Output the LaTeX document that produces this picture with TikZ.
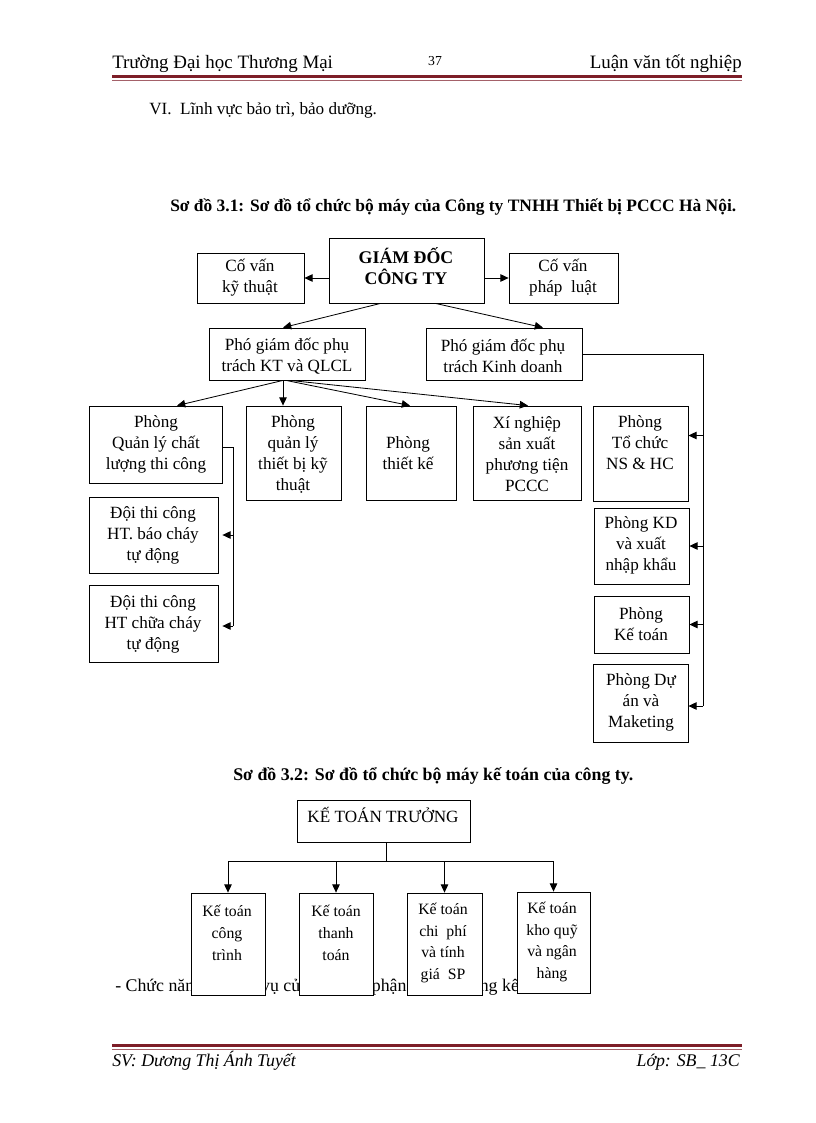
\documentclass[tikz,border=0pt]{standalone}
\usepackage{fontspec}
\setmainfont{Liberation Serif}
\usetikzlibrary{arrows.meta,calc}
\definecolor{rulec}{RGB}{125,30,40}
\tikzset{
  box/.style={draw, line width=0.6pt, fill=white, inner sep=0pt},
  conn/.style={line width=0.6pt},
  arr/.style={conn, -{Triangle[length=6pt,width=5.5pt]}},
  txt/.style={align=center, inner sep=0pt, font=\fontsize{12.5}{15.3}\selectfont},
  small/.style={align=center, inner sep=0pt, font=\fontsize{11.5}{16}\selectfont},
  plain/.style={inner sep=0pt, font=\fontsize{12.5}{15}\selectfont},
}
\newcommand\bx[5]{\node[box, minimum width={(#4-#2)*0.729pt}, minimum height={(#5-#3)*0.729pt}] (#1) at ({(#2+#4)/2},{(#3+#5)/2}) {};}
\begin{document}
\begin{tikzpicture}[x=0.729pt,y=-0.729pt]
\useasboundingbox (0,0) rectangle (816,1123);
\fill[white] (0,0) rectangle (816,1123);
% header
\node[anchor=base west, inner sep=0pt, font=\fontsize{13.8}{16}\selectfont] (h1) at (112,69) {Trường Đại học Thương Mại};
\node[anchor=base, inner sep=0pt, font=\fontsize{10}{12}\selectfont] (h2) at (435,66) {37};
\node[anchor=base east, inner sep=0pt, font=\fontsize{13.8}{16}\selectfont] (h3) at (742,69) {Luận văn tốt nghiệp};
\draw[rulec, line width=2.2pt] (112,76.5) -- (742,76.5);
\draw[rulec!70, line width=0.7pt] (112,80) -- (742,80);
\node[plain, anchor=base west] (vi) at (149,115) {VI.\ \ Lĩnh vực bảo trì, bảo dưỡng.};
\node[anchor=base west, inner sep=0pt, font=\fontsize{12.7}{15}\selectfont\bfseries] (cap1) at (170,212) {Sơ đồ 3.1: Sơ đồ tổ chức bộ máy của Công ty TNHH Thiết bị PCCC Hà Nội.};
% boxes diagram 1
\bx{gd}{329}{238}{484}{303}
\bx{cvkt}{197}{253}{304}{303}
\bx{cvpl}{509}{253}{618}{303}
\bx{pkt}{209}{328}{365}{380}
\bx{pkd}{426}{328}{582}{380}
\bx{qlcl}{89}{406}{222}{483}
\bx{qltb}{246}{406}{341}{500}
\bx{tk}{366}{406}{456}{500}
\bx{xn}{473}{406}{581}{500}
\bx{d1}{89}{497}{218}{573}
\bx{d2}{89}{585}{218}{662}
\bx{tc}{593}{406}{688}{501}
\bx{kd}{594}{508}{689}{584}
\bx{kt}{594}{596}{689}{653}
\bx{da}{593}{664}{688}{742}
% texts
\node[txt, font=\fontsize{13}{15.3}\selectfont\bfseries] (gdt) at (406,266) {GIÁM ĐỐC\\CÔNG TY};
\node[txt] (cvktt) at (250,278) {Cố vấn\\kỹ thuật};
\node[txt] (cvplt) at (563,278) {Cố vấn\\pháp\ \ luật};
\node[txt] (pktt) at (287,356) {Phó giám đốc phụ\\trách KT và QLCL};
\node[txt] (pkdt) at (503,356) {Phó giám đốc phụ\\trách Kinh doanh};
\node[txt] (qlclt) at (156,444) {Phòng\\Quản lý chất\\lượng thi công};
\node[txt] (qltbt) at (293,454) {Phòng\\quản lý\\thiết bị kỹ\\thuật};
\node[txt] (tkt) at (408,453) {Phòng\\thiết kế};
\node[txt] (xnt) at (527,454) {Xí nghiệp\\sản xuất\\phương tiện\\PCCC};
\node[txt] (d1t) at (153,535) {Đội thi công\\HT. báo cháy\\tự động};
\node[txt] (d2t) at (153,624) {Đội thi công\\HT chữa cháy\\tự động};
\node[txt] (tct) at (640,443) {Phòng\\Tổ chức\\NS \& HC};
\node[txt] (kdt) at (641,545) {Phòng KD\\và xuất\\nhập khẩu};
\node[txt] (ktt2) at (641,624) {Phòng\\Kế toán};
\node[txt] (dat) at (641,702) {Phòng Dự\\án và\\Maketing};
% connectors diagram 1
\draw[arr] (gd.west |- cvkt.east) -- (cvkt.east);
\draw[arr] (gd.east |- cvpl.west) -- (cvpl.west);
\draw[arr] ($(gd.south)+(-26,0)$) -- ($(pkt.north)+(-4,0)$);
\draw[arr] ($(gd.south)+(29,0)$) -- ($(pkd.north)+(39,0)$);
\draw[arr] ($(pkt.south)+(-4,0)$) -- ($(qlcl.north)+(21.5,0)$);
\draw[arr] ($(pkt.south)+(-4,0)$) -- ($(qltb.north)+(-10.5,0)$);
\draw[arr] ($(pkt.south)+(-1,0)$) -- ($(tk.north)+(-1,0)$);
\draw[arr] ($(pkt.south)+(3,0)$) -- ($(xn.north)+(1,0)$);
\coordinate (rb) at (703,354);
\coordinate (rb2) at (703,706);
\draw[conn] (pkd.east) -- (rb) -- (rb2);
\draw[arr] ($(rb |- tc.east)+(0,-18)$) -- ($(tc.east)+(0,-18)$);
\draw[arr] (rb |- kd.east) -- (kd.east);
\draw[arr] (rb |- kt.east) -- (kt.east);
\draw[arr] (rb2) -- (da.east |- rb2);
\coordinate (lb) at (233,447);
\coordinate (lb2) at (233,626);
\draw[conn] (qlcl.east |- lb) -- (lb) -- (lb2);
\draw[arr] (lb |- d1.east) -- ($(d1.east)+(4,0)$);
\draw[arr] (lb2) -- ($(d2.east |- lb2)+(4,0)$);
% diagram 2
\node[anchor=base west, inner sep=0pt, font=\fontsize{13}{15}\selectfont\bfseries] (cap2) at (233,780) {Sơ đồ 3.2: Sơ đồ tổ chức bộ máy kế toán của công ty.};
\node[plain, anchor=base west, font=\fontsize{13}{15}\selectfont] (para) at (115,991) {- Chức năng, nhiệm vụ của từng bộ phận trong phòng kế toán};
\bx{ktt}{297}{800}{470}{842}
\node[txt] (kttt) at (383,815) {KẾ TOÁN TRƯỞNG};
\bx{b1}{191}{893}{265}{995}
\bx{b2}{299}{893}{373}{995}
\bx{b3}{407}{893}{482}{995}
\bx{b4}{517}{892}{590}{993}
\node[small] (b1t) at (227,933) {Kế toán\\công\\trình};
\node[small] (b2t) at (336,933) {Kế toán\\thanh\\toán};
\node[small] (b3t) at (443,943) {Kế toán\\chi\ \ phí\\và tính\\giá\ \ SP};
\node[small] (b4t) at (552,942) {Kế toán\\kho quỹ\\và ngân\\hàng};
\coordinate (bus) at (386,861);
\draw[conn] (ktt.south -| bus) -- (bus);
\draw[conn] (b1.north |- bus) -- (b4.north |- bus);
\foreach \b in {b1,b2,b3,b4} \draw[arr] (\b.north |- bus) -- (\b.north);
% footer
\draw[rulec, line width=2.2pt] (112,1045.5) -- (742,1045.5);
\draw[rulec!70, line width=0.7pt] (112,1049) -- (742,1049);
\node[anchor=base west, inner sep=0pt, font=\fontsize{13}{15}\selectfont\itshape] (f1) at (112,1066) {SV: Dương Thị Ánh Tuyết};
\node[anchor=base east, inner sep=0pt, font=\fontsize{13}{15}\selectfont\itshape] (f2) at (740,1066) {Lớp: SB\_ 13C};
\end{tikzpicture}
\end{document}
